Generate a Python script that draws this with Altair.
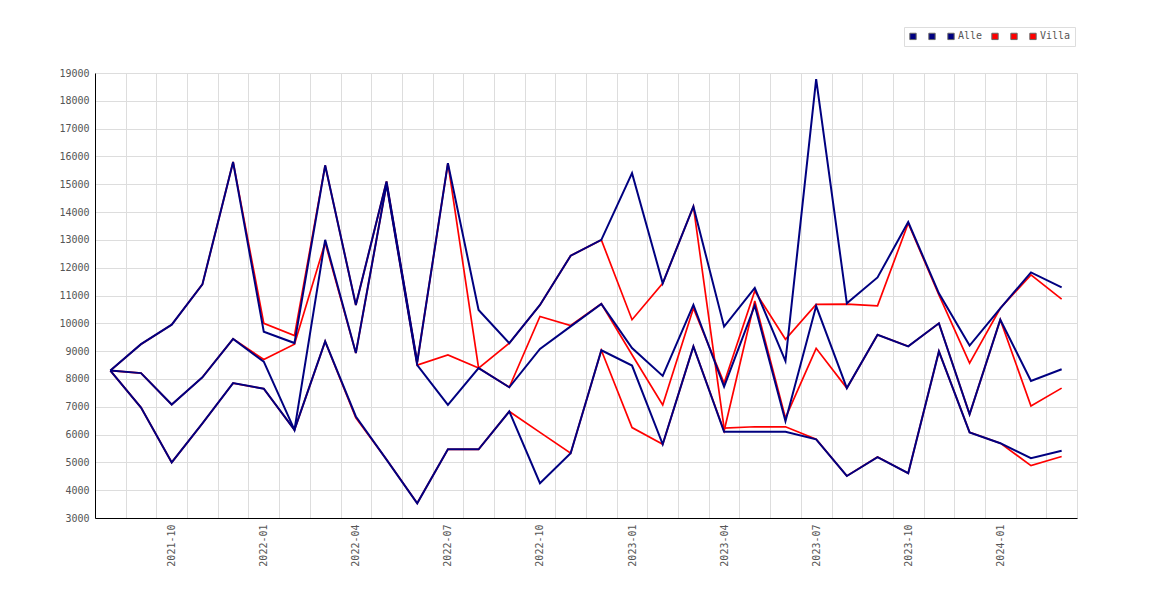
import altair as alt
import pandas as pd

months = ["2021-08", "2021-09", "2021-10", "2021-11", "2021-12", "2022-01", "2022-02", "2022-03",
          "2022-04", "2022-05", "2022-06", "2022-07", "2022-08", "2022-09", "2022-10", "2022-11",
          "2022-12", "2023-01", "2023-02", "2023-03", "2023-04", "2023-05", "2023-06", "2023-07",
          "2023-08", "2023-09", "2023-10", "2023-11", "2023-12", "2024-01", "2024-02", "2024-03"]

alle_1 = [8300, 9250, 9950, 11400, 15800, 9700, 9290, 15680, 10660, 15100, 8600, 15760, 10480, 9285, 10660, 12430,
          13000, 15400, 11440, 14200, 9880, 11270, 8640, 18780, 10720, 11650, 13640, 11080, 9200, 10540, 11830, 11290]
alle_2 = [8300, 8210, 7080, 8060, 9440, 8620, 6170, 13000, 8930, 15000, 8500, 7070, 8390, 7700, 9080, 9890,
          10700, 9110, 8110, 10660, 7720, 10640, 6480, 10620, 7670, 9590, 9170, 10000, 6730, 10130, 7930, 8350]
alle_3 = [8300, 6970, 5000, 6400, 7850, 7650, 6170, 9350, 6650, 5100, 3530, 5470, 5470, 6830, 4250, 5330,
          9030, 8480, 5650, 9170, 6100, 6100, 6100, 5830, 4510, 5190, 4610, 8990, 6080, 5690, 5150, 5420]

villa_1 = [8300, 9250, 9950, 11400, 15800, 10000, 9560, 15680, 10660, 15100, 8600, 15760, 8390, 9285, 10660, 12430,
           13000, 10130, 11440, 14200, 6230, 6280, 6280, 5830, 4510, 5190, 4610, 8990, 6080, 5690, 4885, 5210]
villa_2 = [8300, 8210, 7080, 8060, 9440, 8700, 9250, 12900, 8930, 15000, 8500, 8865, 8390, 7700, 10245, 9920,
           10700, 8870, 7067, 10544, 7850, 11160, 9425, 10680, 10690, 10630, 13600, 11020, 8570, 10540, 11740, 10870]
villa_3 = [8300, 6970, 5000, 6400, 7850, 7650, 6170, 9350, 6600, 5100, 3530, 5470, 5470, 6830, 6080, 5330,
           9030, 6250, 5650, 9170, 6130, 10800, 6600, 9100, 7670, 9590, 9170, 10000, 6730, 10130, 7030, 7670]

series_names = ["Alle 1", "Alle 2", "Alle", "Villa 1", "Villa 2", "Villa"]
series_colors = ["#000080", "#000080", "#000080", "#ff0000", "#ff0000", "#ff0000"]
series_values = [alle_1, alle_2, alle_3, villa_1, villa_2, villa_3]
series_group = ["Alle", "Alle", "Alle", "Villa", "Villa", "Villa"]

rows = []
for name, grp, vals in zip(series_names, series_group, series_values):
    for m, v in zip(months, vals):
        rows.append({"month": m, "value": v, "series": name, "key": name, "group": grp})
df = pd.DataFrame(rows)

FONT = "DejaVu Sans Mono"

x_enc = alt.X(
    "month:O",
    sort=months,
    scale=alt.Scale(type="band", paddingInner=0, paddingOuter=0),
    axis=alt.Axis(
        title=None, grid=True, tickBand="extent", ticks=False, tickSize=0,
        labelAngle=-90, labelPadding=6, labelFont=FONT, labelFontSize=10, labelColor="#555",
        labelExpr="indexof(['01','04','07','10'], substring(datum.label, 5, 7)) >= 0 ? datum.label : ''",
        domainColor="#000", gridColor="#dddddd",
    ),
)
y_enc = alt.Y(
    "value:Q",
    scale=alt.Scale(domain=[3000, 19000], nice=False, zero=False),
    axis=alt.Axis(
        title=None, values=list(range(3000, 19001, 1000)), format="d", grid=True,
        ticks=False, tickSize=0, labelPadding=6, labelFont=FONT, labelFontSize=10,
        labelColor="#555", domainColor="#000", gridColor="#dddddd",
    ),
)

stroke_scale = alt.Scale(domain=series_names, range=series_colors)

base = alt.Chart(df)

red_lines = base.transform_filter(alt.datum.group == "Villa").mark_line(strokeWidth=1.7).encode(
    x=x_enc, y=y_enc,
    stroke=alt.Stroke("series:N", scale=stroke_scale, legend=None),
)
navy_lines = base.transform_filter(alt.datum.group == "Alle").mark_line(strokeWidth=2).encode(
    x=x_enc, y=y_enc,
    stroke=alt.Stroke("series:N", scale=stroke_scale, legend=None),
)
legend_layer = base.mark_point(size=0, strokeWidth=0, filled=True, shape="square").encode(
    x=x_enc, y=y_enc,
    fill=alt.Fill(
        "key:N",
        scale=alt.Scale(domain=series_names, range=series_colors),
        legend=alt.Legend(
            title=None, orient="none", legendX=809, legendY=-46, direction="horizontal",
            symbolType="square", symbolSize=40, symbolStrokeColor="#666", symbolStrokeWidth=1,
            symbolOpacity=1, labelFont=FONT, labelFontSize=10, labelColor="#555",
            labelOffset=2, columnPadding=6, padding=4, strokeColor="#dddddd",
            labelExpr="datum.label == 'Alle' || datum.label == 'Villa' ? datum.label : ' '",
        ),
    ),
)

chart = alt.layer(red_lines, navy_lines, legend_layer).resolve_legend(fill="independent").properties(
    width=982, height=445,
    padding={"left": 50, "top": 18, "right": 5, "bottom": 5},
).configure_view(stroke=None).configure_axis(domainWidth=1)

chart.save("out.html", embed_options={"renderer": "svg", "actions": False})
